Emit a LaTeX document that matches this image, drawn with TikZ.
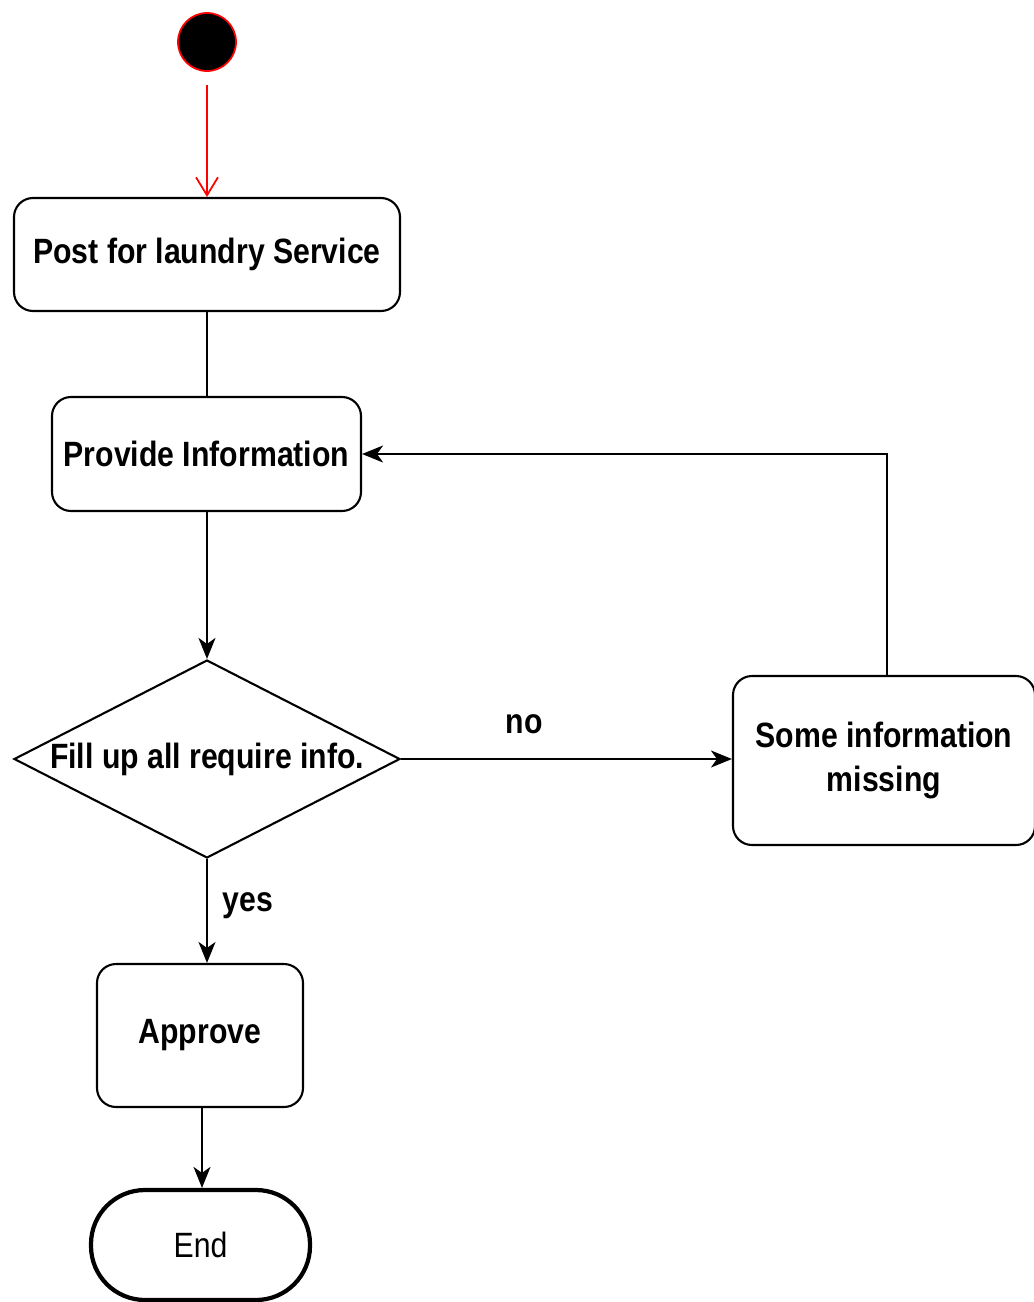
\documentclass[tikz,border=0pt]{standalone}
\usepackage{fontspec}
\setmainfont{Liberation Sans}[FakeStretch=0.86]
\usetikzlibrary{shapes.geometric,arrows.meta}
\begin{document}
\begin{tikzpicture}[x=0.02cm,y=-0.02cm,
  every node/.style={font=\fontsize{20pt}{24.5pt}\selectfont\bfseries},
  actbox/.style={draw=black,line width=1.2pt,rounded corners=0.38cm,align=center,inner sep=0pt},
  conn/.style={draw=black,line width=1.1pt},
  arr/.style={conn,-{Stealth[length=0.42cm,width=0.34cm,inset=0.12cm]}}
]
\useasboundingbox (0,0) rectangle (1034,1302);
\node[circle,fill=black,draw=red,line width=1pt,minimum size=58*0.02cm,inner sep=0pt] (start) at (207,42) {};
\node[actbox,minimum width=386*0.02cm,minimum height=113*0.02cm] (post) at (207,254.5) {Post for laundry Service};
\node[actbox,minimum width=309*0.02cm,minimum height=114*0.02cm] (info) at (206.5,454) {Provide Information};
\node[diamond,draw=black,line width=1.2pt,aspect=1.95,inner sep=0pt,minimum width=386*0.02cm,minimum height=198*0.02cm] (fill) at (207,759) {Fill up all require info.};
\node[actbox,minimum width=302*0.02cm,minimum height=169*0.02cm] (miss) at (884,760.5) {Some information\\missing};
\node[actbox,minimum width=206*0.02cm,minimum height=143*0.02cm] (appr) at (200,1035.5) {Approve};
\node[draw=black,line width=2.4pt,rounded corners=1.08cm,minimum width=219*0.02cm,minimum height=110*0.02cm,inner sep=0pt,font=\fontsize{20pt}{24pt}\selectfont] (end) at (200.5,1245) {End};
\node (no) at (524,724) {no};
\node (yes) at (248,906) {yes};
\coordinate (loop) at (887,454);
\draw[draw=red,line width=1pt,-{Straight Barb[length=0.36cm,width=0.44cm,line width=1pt]}] ([yshift=-0.26cm]start.south) -- (post.north);
\draw[conn] (post.south) -- (post.south |- info.north);
\draw[arr] (info.south -| fill.north) -- (fill.north);
\draw[arr] (fill.east) -- (miss.west |- fill.east);
\draw[arr] (miss.north -| loop) -- (loop) -- (info.east);
\draw[arr] (fill.south) -- (fill.south |- appr.north);
\draw[arr] ([xshift=0.04cm]appr.south) -- ([xshift=0.04cm]appr.south |- end.north);
\end{tikzpicture}
\end{document}
